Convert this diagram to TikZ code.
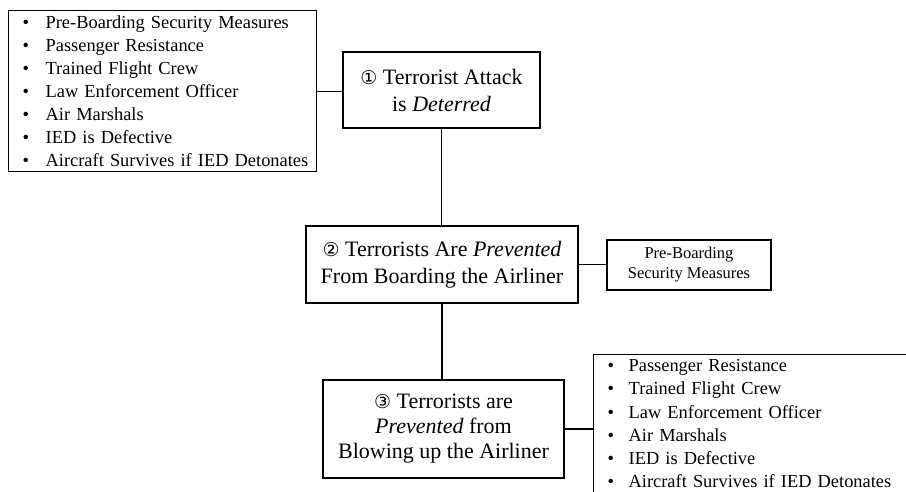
\documentclass[tikz,border=0pt]{standalone}
\usepackage{fontspec}
\setmainfont{Liberation Serif}
\newfontfamily\circfont{DejaVu Sans}
\newcommand\circnum[1]{{\circfont\fontsize{19}{19}\selectfont #1}}
\newcommand\li[2]{\mbox{\makebox[#1][l]{\textbullet}#2}}
\begin{document}
\begin{tikzpicture}[x=1pt,y=-1pt,
  box/.style={draw, line width=1.3pt, inner sep=0pt, align=center},
  mainfont/.style={font=\fontsize{22}{27}\selectfont},
  listfont/.style={font=\fontsize{18.4}{23.1}\selectfont},
  link/.style={line width=1.3pt}]
\useasboundingbox (0,0) rectangle (906,491);
\clip (0,0) rectangle (906,491);

\node[box, listfont, anchor=north west, align=left, text width=280pt,
      minimum width=308pt, minimum height=161pt] (list1) at (8,10)
  {\li{23pt}{Pre-Boarding Security Measures}\\
   \li{23pt}{Passenger Resistance}\\
   \li{23pt}{Trained Flight Crew}\\
   \li{23pt}{Law Enforcement Officer}\\
   \li{23pt}{Air Marshals}\\
   \li{23pt}{IED is Defective}\\
   \li{23pt}{Aircraft Survives if IED Detonates}};

\node[box, mainfont, minimum width=197pt, minimum height=76pt] (b1) at (441.5,90)
  {\circnum{①} Terrorist Attack\\is \textit{Deterred}};

\node[box, mainfont, minimum width=272pt, minimum height=77pt] (b2) at (442,264.5)
  {\circnum{②} Terrorists Are \textit{Prevented}\\From Boarding the Airliner};

\node[box, font=\fontsize{16.5}{20}\selectfont, minimum width=164pt, minimum height=50pt] (pb) at (689,265)
  {Pre-Boarding\\Security Measures};

\node[box, font=\fontsize{22}{25}\selectfont, minimum width=241pt, minimum height=98pt] (b3) at (443.5,429)
  {\circnum{③} Terrorists are\\\textit{Prevented} from\\Blowing up the Airliner};

\node[box, listfont, anchor=north west, align=left, inner xsep=14pt, inner ysep=5pt,
      text width=360pt] (list2) at (593,354)
  {\li{21pt}{Passenger Resistance}\\
   \li{21pt}{Trained Flight Crew}\\
   \li{21pt}{Law Enforcement Officer}\\
   \li{21pt}{Air Marshals}\\
   \li{21pt}{IED is Defective}\\
   \li{21pt}{Aircraft Survives if IED Detonates}};

\draw[link] (list1.east) -- (list1.east -| b1.west);
\draw[link] (b1.south) -- (b1.south |- b2.north);
\draw[link] (b2.east) -- (b2.east -| pb.west);
\draw[link] (b2.south) -- (b2.south |- b3.north);
\draw[link] (b3.east) -- (b3.east -| list2.west);
\end{tikzpicture}
\end{document}
